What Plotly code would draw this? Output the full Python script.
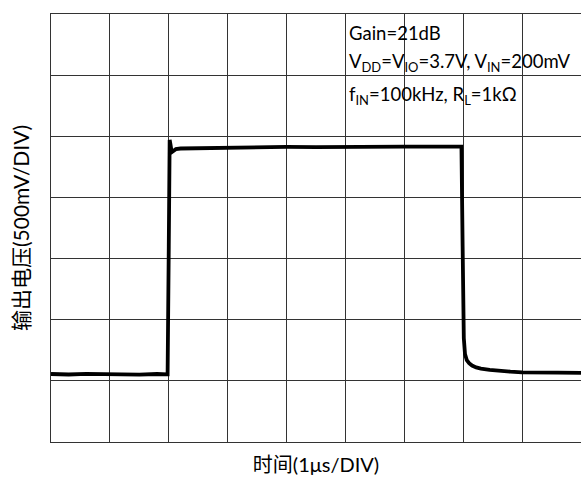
import plotly.graph_objects as go

# Waveform (time in µs, output in V; 500 mV/div)
time_us = [0.0, 0.3, 0.6, 0.9, 1.2, 1.5, 1.8, 1.98, 2.0, 2.015, 2.03, 2.05, 2.08, 2.12, 2.2,
           2.4, 2.7, 3.0, 3.5, 4.0, 4.5, 5.0, 5.5, 6.0, 6.5, 6.97, 6.99, 7.01, 7.03,
           7.06, 7.1, 7.15, 7.22, 7.3, 7.45, 7.6, 7.8, 8.0, 8.3, 8.6, 9.0]
output_v = [0.556, 0.552, 0.557, 0.553, 0.555, 0.551, 0.556, 0.553, 1.6, 2.47, 2.43, 2.37, 2.385, 2.395, 2.4,
            2.402, 2.405, 2.41, 2.408, 2.413, 2.412, 2.415, 2.414, 2.416, 2.415, 2.415, 1.6, 0.85, 0.72,
            0.67, 0.645, 0.625, 0.61, 0.6, 0.59, 0.582, 0.575, 0.57, 0.566, 0.568, 0.566]

x_title = "时间(1μs/DIV)"
y_title = "输出电压(500mV/DIV)"
note_lines = [
    "Gain=21dB",
    "V<sub>DD</sub>=V<sub>IO</sub>=3.7V, V<sub>IN</sub>=200mV",
    "f<sub>IN</sub>=100kHz, R<sub>L</sub>=1kΩ",
]
note_y = [3.345, 3.105, 2.83]

FONT = "Lato, 'Noto Sans CJK SC', sans-serif"
GRID = "#333333"

fig = go.Figure()
fig.add_trace(go.Scatter(x=time_us, y=output_v, mode="lines",
                         line=dict(color="black", width=3.8), showlegend=False))

for txt, yv in zip(note_lines, note_y):
    fig.add_annotation(x=5.02, y=yv, xref="x", yref="y", text=txt, showarrow=False,
                       xanchor="left", yanchor="middle",
                       font=dict(family=FONT, size=18.5, color="black"))

fig.update_layout(
    width=581, height=484,
    margin=dict(l=51, r=0, t=14, b=42),
    paper_bgcolor="white", plot_bgcolor="white",
    font=dict(family=FONT, size=18, color="black"),
    xaxis=dict(range=[0, 9], dtick=1, tick0=0, showticklabels=False, ticks="",
               showgrid=True, gridcolor=GRID, gridwidth=1, zeroline=False,
               showline=True, linecolor=GRID, linewidth=1, mirror=True,
               title=dict(text=x_title, standoff=15, font=dict(family=FONT, size=20))),
    yaxis=dict(range=[0, 3.5], dtick=0.5, tick0=0, showticklabels=False, ticks="",
               showgrid=True, gridcolor=GRID, gridwidth=1, zeroline=False,
               showline=True, linecolor=GRID, linewidth=1,
               title=dict(text=y_title, standoff=14, font=dict(family=FONT, size=21))),
)

fig.write_html("out.html", config={"displayModeBar": False},
               post_script="document.body.style.margin='0';document.body.style.overflow='hidden';")
